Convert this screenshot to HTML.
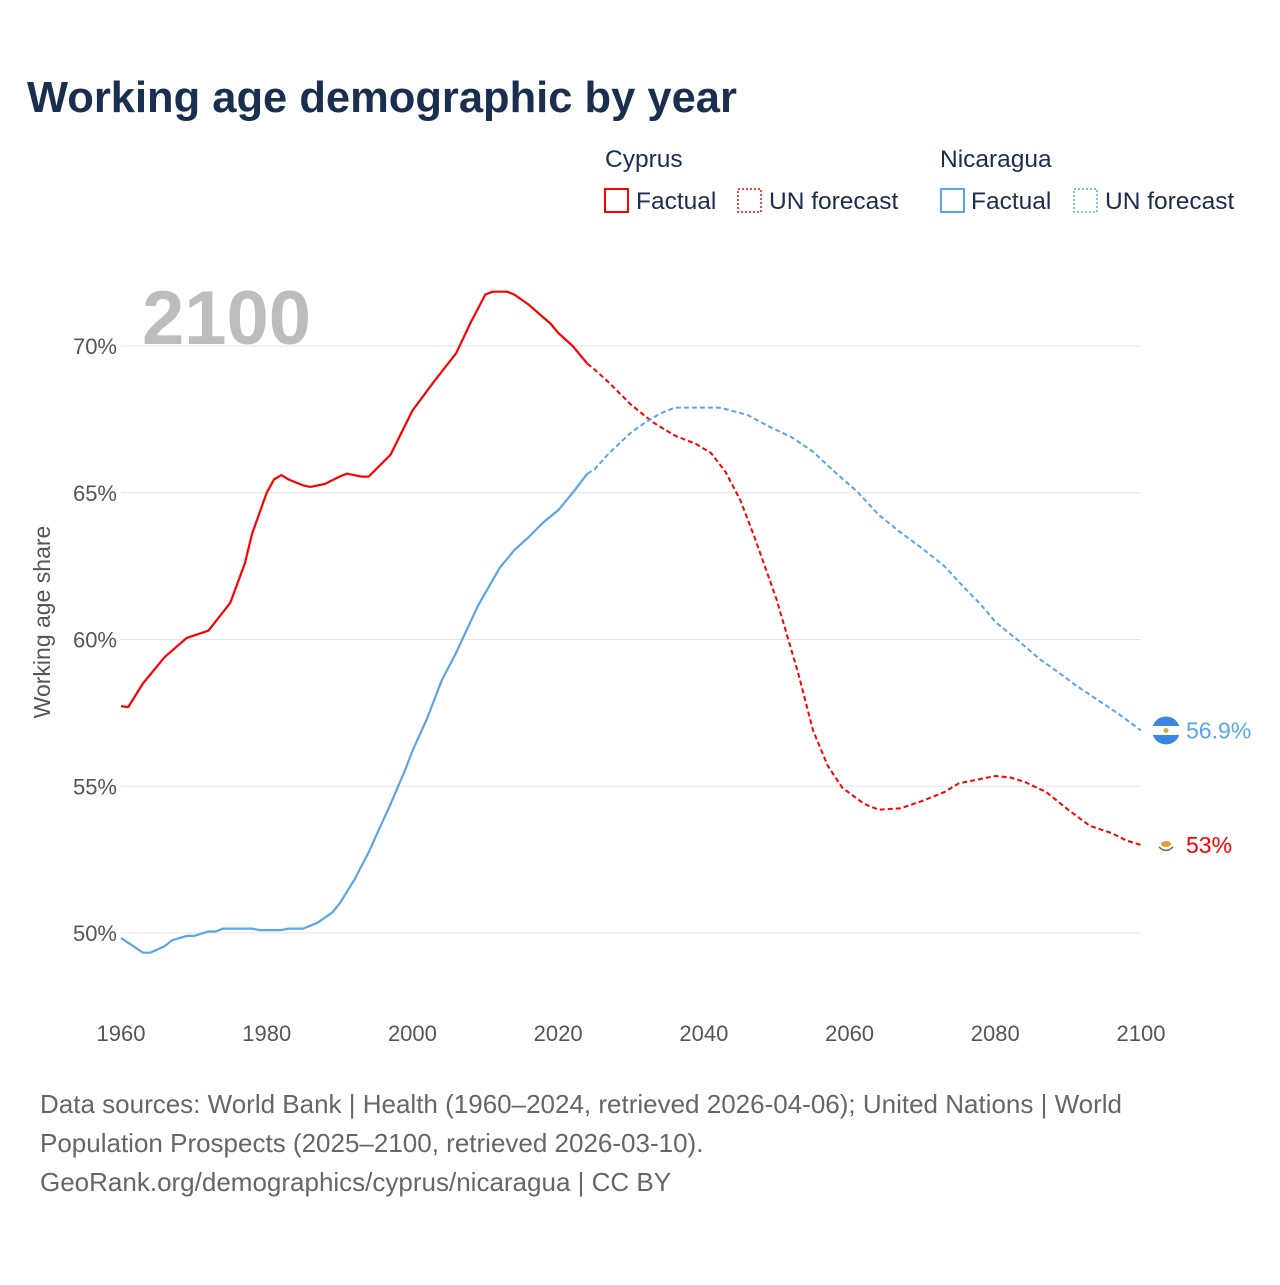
<!DOCTYPE html>
<html><head><meta charset="utf-8"><style>
html,body{margin:0;padding:0;background:#fff;}
body{width:1280px;height:1280px;overflow:hidden;font-family:"Liberation Sans",sans-serif;}
</style></head><body>
<svg width="1280" height="1280" viewBox="0 0 1280 1280" style="font-family:'Liberation Sans',sans-serif">
<text x="27" y="112" font-size="43.5" font-weight="bold" fill="#1a2e4f">Working age demographic by year</text>
<g font-size="24.5" fill="#1a2e4f">
<text x="605" y="167">Cyprus</text>
<rect x="605" y="189" width="23" height="23" fill="none" stroke="#ff0000" stroke-width="2"/>
<text x="636" y="209">Factual</text>
<rect x="738" y="189" width="23" height="23" fill="none" stroke="#ff0000" stroke-width="1.5" stroke-dasharray="2,2"/>
<text x="769" y="209">UN forecast</text>
<text x="940" y="167">Nicaragua</text>
<rect x="941" y="189" width="23" height="23" fill="none" stroke="#5aa5ea" stroke-width="2"/>
<text x="971" y="209">Factual</text>
<rect x="1074" y="189" width="23" height="23" fill="none" stroke="#5aa5ea" stroke-width="1.5" stroke-dasharray="2,2"/>
<text x="1105" y="209">UN forecast</text>
</g>
<text x="142" y="344" font-size="76" font-weight="bold" fill="#bdbdbd">2100</text>
<g id="grid"></g>
<g id="series"></g>
<text transform="translate(50,622) rotate(-90)" text-anchor="middle" font-size="23" fill="#555">Working age share</text>
<g font-size="26" fill="#666">
<text x="40" y="1113">Data sources: World Bank | Health (1960–2024, retrieved 2026-04-06); United Nations | World</text>
<text x="40" y="1152">Population Prospects (2025–2100, retrieved 2026-03-10).</text>
<text x="40" y="1191">GeoRank.org/demographics/cyprus/nicaragua | CC BY</text>
</g>
</svg>
<script>
const yTicks=[50,55,60,65,70];
const xTicks=[1960,1980,2000,2020,2040,2060,2080,2100];
const cyYears=[1960,1961,1963,1966,1969,1972,1975,1977,1978,1980,1981,1982,1983,1985,1986,1988,1990,1991,1993,1994,1995,1997,2000,2003,2006,2008,2010,2011,2013,2014,2016,2019,2020,2022,2024,2025,2027,2030,2033,2036,2039,2041,2043,2045,2047,2050,2053,2055,2057,2059,2062,2064,2067,2070,2073,2075,2077,2080,2082,2084,2087,2090,2093,2096,2098,2100];
const cyValues=[57.73,57.7,58.5,59.4,60.05,60.3,61.25,62.6,63.6,65.0,65.45,65.6,65.45,65.25,65.2,65.3,65.55,65.65,65.55,65.55,65.8,66.3,67.8,68.8,69.75,70.8,71.75,71.85,71.85,71.75,71.4,70.75,70.45,70.0,69.4,69.2,68.75,68.0,67.4,66.95,66.65,66.35,65.7,64.75,63.45,61.35,58.8,56.9,55.7,54.95,54.4,54.2,54.25,54.5,54.8,55.1,55.2,55.35,55.3,55.15,54.8,54.2,53.65,53.4,53.15,53.0];
const niYears=[1960,1962,1963,1964,1966,1967,1969,1970,1972,1973,1974,1978,1979,1982,1983,1985,1987,1989,1990,1992,1994,1995,1997,1999,2000,2002,2004,2006,2009,2012,2014,2016,2017,2018,2020,2022,2024,2025,2027,2030,2032,2034,2036,2042,2043,2046,2049,2052,2055,2058,2061,2064,2067,2070,2073,2076,2078,2080,2083,2086,2088,2091,2094,2097,2100];
const niValues=[49.83,49.5,49.33,49.33,49.55,49.75,49.9,49.9,50.05,50.05,50.15,50.15,50.1,50.1,50.15,50.15,50.35,50.7,51.0,51.8,52.75,53.3,54.4,55.55,56.2,57.3,58.6,59.55,61.15,62.45,63.05,63.5,63.75,64.0,64.4,65.0,65.65,65.8,66.35,67.05,67.4,67.7,67.9,67.9,67.85,67.65,67.25,66.9,66.4,65.7,65.05,64.25,63.65,63.1,62.5,61.7,61.2,60.6,60.0,59.35,59.0,58.45,57.95,57.45,56.9];
const forecastStart=2024;
const NS="http://www.w3.org/2000/svg";
const xs=y=>121+(y-1960)*(1141-121)/140;
const ys=v=>933-(v-50)*(933-346)/20;
function mk(t,a,p){const e=document.createElementNS(NS,t);for(const k in a)e.setAttribute(k,a[k]);p.appendChild(e);return e;}
const grid=document.getElementById('grid');
yTicks.forEach(v=>{
 const l=mk('line',{x1:121,x2:1141,y1:ys(v),y2:ys(v),stroke:'#e4e4e4','stroke-width':1},grid);
 
 
 const t=mk('text',{x:117,y:ys(v)+8,'text-anchor':'end','font-size':22,fill:'#555'},grid);
 t.textContent=v+'%';
 
 
});
xTicks.forEach(y=>{
 const t=mk('text',{x:xs(y),y:1041,'text-anchor':'middle','font-size':22,fill:'#555'},grid);
 t.textContent=y;
 
 
});
const ser=document.getElementById('series');
function draw(years,vals,color,name){
 let a=[],b=[];
 years.forEach((y,i)=>{const p=xs(y).toFixed(1)+','+ys(vals[i]).toFixed(1);if(y<=forecastStart)a.push(p);if(y>=forecastStart)b.push(p);});
 const l1=mk('polyline',{points:a.join(' '),fill:'none',stroke:color,'stroke-width':2.2,'stroke-linejoin':'round'},ser);
 
 
 const l2=mk('polyline',{points:b.join(' '),fill:'none',stroke:color,'stroke-width':2,'stroke-dasharray':'5,3'},ser);
 
 
}
draw(cyYears,cyValues,'#ff0000','cyprus');
draw(niYears,niValues,'#5aa5ea','nicaragua');
const nv=niValues[niValues.length-1], cv=cyValues[cyValues.length-1];
const ny=ys(nv), cy=ys(cv);
const nf=mk('g',{},ser);


mk('circle',{cx:1166,cy:ny,r:14,fill:'#3a86e0'},nf);
mk('rect',{x:1152,y:ny-4.5,width:28,height:9,fill:'#fff'},nf);
mk('circle',{cx:1166,cy:ny,r:2.5,fill:'#c8b040'},nf);
const cf=mk('g',{},ser);


mk('circle',{cx:1166,cy:cy,r:9,fill:'#fff'},cf);
mk('ellipse',{cx:1166,cy:cy-1,rx:5,ry:3,fill:'#d8a030'},cf);
mk('path',{d:`M1159 ${cy+2} q7 7 14 0`,fill:'none',stroke:'#4a8a3a','stroke-width':1.5},cf);
const nl=mk('text',{x:1186,y:ny+8,'font-size':23,fill:'#5aa5ea'},ser);
nl.textContent=nv.toFixed(1)+'%';


const cl=mk('text',{x:1186,y:cy+8,'font-size':23,fill:'#ff0000'},ser);
cl.textContent=(Math.round(cv*10)/10)+'%';


</script>
</body></html>
